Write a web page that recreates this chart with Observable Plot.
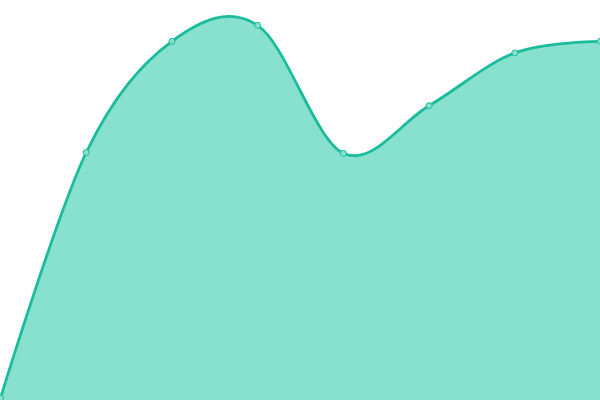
<!DOCTYPE html>
<html>
<head>
<meta charset="utf-8">
<script src="https://cdn.jsdelivr.net/npm/d3@7"></script>
<script src="https://cdn.jsdelivr.net/npm/@observablehq/plot@0.6"></script>
<style>
html, body { margin: 0; padding: 0; background: #fff; overflow: hidden; }
#chart svg { display: block; }
</style>
</head>
<body>
<div id="chart"></div>
<script>
const steps = [0, 1, 2, 3, 4, 5, 6, 7];
const values = [0.6, 62, 89.8, 93.8, 61.8, 73.7, 86.9, 89.8];

const data = steps.map((s, i) => ({x: s, y: values[i]}));
const color = "#1abc9c";

const chart = Plot.plot({
  width: 600,
  height: 400,
  margin: 0,
  x: {domain: [0, 7], axis: null},
  y: {domain: [0, 100], axis: null},
  marks: [
    Plot.areaY(data, {x: "x", y: "y", curve: "cardinal", fill: "#88e0cf"}),
    Plot.lineY(data, {x: "x", y: "y", curve: "cardinal", stroke: color, strokeWidth: 2.8}),
    Plot.dot(data, {x: "x", y: "y", r: 3, fill: "#8ae0cf", stroke: color, strokeWidth: 1})
  ]
});
document.getElementById("chart").appendChild(chart);
</script>
</body>
</html>
